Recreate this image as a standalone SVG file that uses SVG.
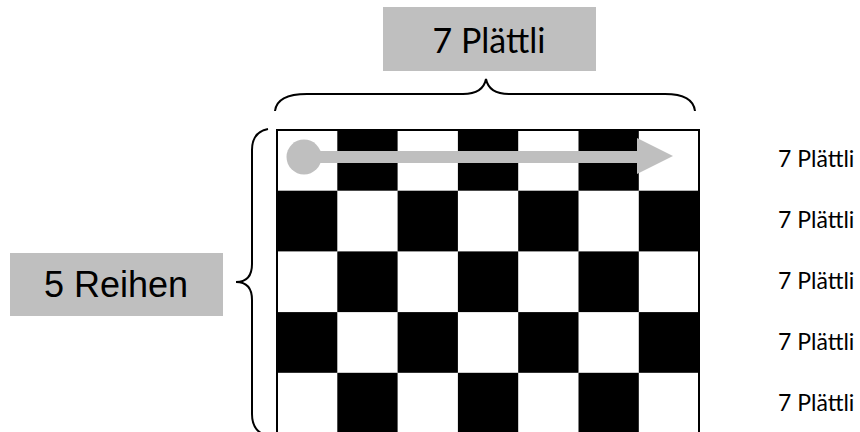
<svg xmlns="http://www.w3.org/2000/svg" width="860" height="432" viewBox="0 0 860 432">
<defs>
<style>
.lbl{fill:#bfbfbf}
.brace{fill:none;stroke:#000;stroke-width:2}
.blk{fill:#000}
.cal{font-family:Lato,"Open Sans",sans-serif;fill:#000}
.ari{font-family:"Liberation Sans",Arial,sans-serif;fill:#000}
.arr{fill:#bfbfbf}
</style>
</defs>
<rect width="860" height="432" fill="#fff"/>
<g id="top-label">
<rect class="lbl" x="383" y="7" width="213" height="64"/>
<text class="cal" x="489" y="53" font-size="34" text-anchor="middle">7 Plättli</text>
</g>
<g id="left-label">
<rect class="lbl" x="10" y="253" width="213" height="63"/>
<text class="ari" x="116" y="297" font-size="36" text-anchor="middle">5 Reihen</text>
</g>
<g id="board">
<rect x="277" y="130" width="422" height="304" fill="#fff"/>
<g class="blk">
<rect x="337.3" y="130" width="60.3" height="60.7"/>
<rect x="457.9" y="130" width="60.3" height="60.7"/>
<rect x="578.5" y="130" width="60.3" height="60.7"/>
<rect x="277" y="190.7" width="60.3" height="60.7"/>
<rect x="397.6" y="190.7" width="60.3" height="60.7"/>
<rect x="518.2" y="190.7" width="60.3" height="60.7"/>
<rect x="638.8" y="190.7" width="60.3" height="60.7"/>
<rect x="337.3" y="251.4" width="60.3" height="60.7"/>
<rect x="457.9" y="251.4" width="60.3" height="60.7"/>
<rect x="578.5" y="251.4" width="60.3" height="60.7"/>
<rect x="277" y="312.1" width="60.3" height="60.7"/>
<rect x="397.6" y="312.1" width="60.3" height="60.7"/>
<rect x="518.2" y="312.1" width="60.3" height="60.7"/>
<rect x="638.8" y="312.1" width="60.3" height="60.7"/>
<rect x="337.3" y="372.8" width="60.3" height="60.7"/>
<rect x="457.9" y="372.8" width="60.3" height="60.7"/>
<rect x="578.5" y="372.8" width="60.3" height="60.7"/>
</g>
<rect x="277" y="130" width="422" height="310" fill="none" stroke="#000" stroke-width="2"/>
</g>
<g id="row-labels">
<text class="cal" x="778" y="167" font-size="23">7 Plättli</text>
<text class="cal" x="778" y="228" font-size="23">7 Plättli</text>
<text class="cal" x="778" y="289" font-size="23">7 Plättli</text>
<text class="cal" x="778" y="350" font-size="23">7 Plättli</text>
<text class="cal" x="778" y="411" font-size="23">7 Plättli</text>
</g>
<g id="connectors">
<path class="brace" d="M275 111 Q277 94 307 94 L463 94 Q483 94 486 79 Q489 94 509 94 L665 94 Q693 94 695 111"/>
<path class="brace" d="M268 129 Q252 132 252 150 L252 264 Q252 282 236 282 Q252 282 252 300 L252 414 Q252 432 268 436"/>
<g id="arrow">
<circle class="arr" cx="304" cy="157" r="17.5"/>
<rect class="arr" x="304" y="151" width="334" height="12"/>
<polygon class="arr" points="637,138 673,156 637,174"/>
</g>
</g>
</svg>
